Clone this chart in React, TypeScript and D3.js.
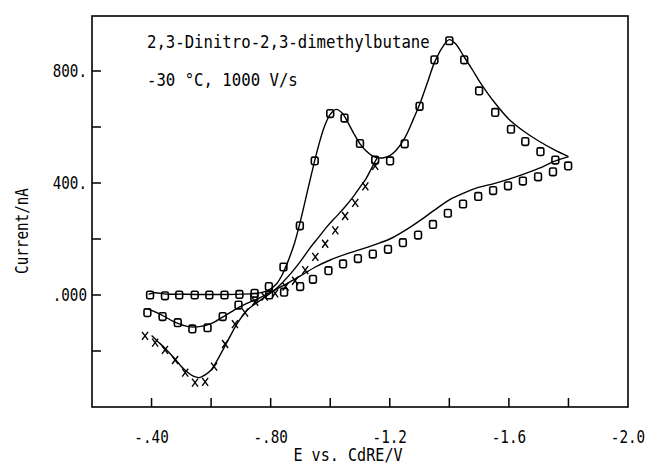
import React from "react";
import * as d3 from "d3";

// forward scan, simulation (E / V, I / nA)
const fwdLineE = [-0.39, -0.41, -0.45, -0.5, -0.55, -0.6, -0.65, -0.7, -0.75, -0.78, -0.8, -0.82, -0.84, -0.86, -0.88, -0.9, -0.92, -0.94, -0.96, -0.98, -1.0, -1.02, -1.04, -1.06, -1.08, -1.1, -1.12, -1.14, -1.16, -1.18, -1.2, -1.22, -1.25, -1.28, -1.3, -1.33, -1.35, -1.38, -1.4, -1.42, -1.45, -1.48, -1.5, -1.55, -1.6, -1.65, -1.7, -1.75, -1.8];
const fwdLineI = [2, 8, 3, 3, 2, 2, 2, 3, 6, 12, 22, 40, 75, 125, 185, 265, 355, 445, 530, 600, 645, 663, 650, 615, 575, 540, 515, 498, 490, 490, 498, 515, 560, 630, 680, 770, 830, 890, 912, 898, 850, 800, 765, 690, 628, 585, 550, 520, 494];

// forward scan, experiment (squares)
const fwdPtsE = [-0.395, -0.445, -0.493, -0.545, -0.594, -0.645, -0.695, -0.746, -0.794, -0.843, -0.898, -0.948, -1.0, -1.048, -1.1, -1.151, -1.201, -1.25, -1.3, -1.35, -1.4, -1.45, -1.5, -1.554, -1.607, -1.655, -1.706, -1.756];
const fwdPtsI = [0, -3, 0, 0, 0, 0, 2, 6, 30, 100, 247, 479, 648, 632, 541, 482, 479, 540, 674, 840, 908, 840, 729, 652, 592, 548, 512, 482];

// reverse scan from -1.8 V, simulation
const revLineE = [-1.8, -1.75, -1.7, -1.65, -1.6, -1.55, -1.5, -1.45, -1.4, -1.35, -1.3, -1.25, -1.2, -1.15, -1.1, -1.05, -1.0, -0.95, -0.9, -0.85, -0.8, -0.76, -0.72, -0.68, -0.64, -0.6, -0.56, -0.52, -0.48, -0.44, -0.4, -0.39];
const revLineI = [494, 476, 452, 432, 414, 398, 385, 365, 340, 303, 265, 230, 200, 180, 162, 145, 125, 100, 68, 38, 10, -12, -30, -52, -78, -102, -113, -112, -98, -75, -55, -50];

// reverse scan from -1.8 V, experiment (squares)
const revPtsE = [-1.799, -1.748, -1.698, -1.647, -1.597, -1.547, -1.497, -1.446, -1.395, -1.345, -1.295, -1.244, -1.194, -1.143, -1.093, -1.043, -0.994, -0.942, -0.899, -0.845, -0.795, -0.745, -0.692, -0.639, -0.588, -0.537, -0.488, -0.437, -0.386];
const revPtsI = [461, 440, 422, 407, 390, 373, 352, 325, 292, 252, 214, 187, 163, 146, 130, 111, 87, 56, 30, 10, 0, -8, -36, -77, -117, -121, -99, -77, -63];

// reverse scan from -1.16 V, simulation
const swLineE = [-1.16, -1.14, -1.12, -1.1, -1.08, -1.05, -1.02, -0.99, -0.96, -0.93, -0.9, -0.87, -0.84, -0.81, -0.78, -0.75, -0.72, -0.69, -0.66, -0.63, -0.6, -0.58, -0.56, -0.54, -0.52, -0.5, -0.48, -0.445, -0.42, -0.4];
const swLineI = [495, 455, 415, 385, 355, 315, 280, 245, 205, 165, 120, 80, 45, 15, -8, -30, -55, -98, -155, -215, -268, -285, -295, -290, -275, -255, -230, -190, -165, -145];

// reverse scan from -1.16 V, experiment (crosses)
const swPtsE = [-0.378, -0.412, -0.445, -0.479, -0.513, -0.546, -0.58, -0.61, -0.647, -0.68, -0.714, -0.748, -0.78, -0.815, -0.85, -0.882, -0.916, -0.95, -0.983, -1.017, -1.05, -1.084, -1.118, -1.151];
const swPtsI = [-146, -170, -196, -232, -277, -313, -310, -256, -175, -104, -63, -24, -6, 6, 30, 51, 89, 136, 183, 231, 282, 329, 388, 461];

const xTicks = [-0.4, -0.6, -0.8, -1.0, -1.2, -1.4, -1.6, -1.8];
const xLabelVals = [-0.4, -0.8, -1.2, -1.6, -2.0];
const xLabels = ["-.40", "-.80", "-1.2", "-1.6", "-2.0"];
const yTicks = [-200, 0, 200, 400, 600, 800];
const yLabelVals = [0, 400, 800];
const yLabels = [".000", "400.", "800."];

const W = 646, H = 469;
const margin = { top: 16, right: 18, bottom: 62, left: 92 };
const font = "'DejaVu Sans Mono', 'Liberation Mono', monospace";

const zip = (e: number[], i: number[]): [number, number][] => e.map((v, k) => [v, i[k]]);

// narrow, tall plotter-like lettering
function Label({ x, y, size, anchor = "start", rotate = 0, sx = 0.84, children }: any) {
  return (
    <text
      transform={`translate(${x},${y}) rotate(${rotate}) scale(${sx},1)`}
      textAnchor={anchor}
      fontFamily={font}
      fontSize={size}
      fill="#000"
    >
      {children}
    </text>
  );
}

export default function App() {
  const x = d3.scaleLinear().domain([-0.2, -2.0]).range([margin.left, W - margin.right]);
  const y = d3.scaleLinear().domain([-400, 1000]).range([H - margin.bottom, margin.top - 1]);
  const line = d3
    .line<[number, number]>()
    .x(d => x(d[0]))
    .y(d => y(d[1]))
    .curve(d3.curveCatmullRom);

  const lines = [zip(fwdLineE, fwdLineI), zip(revLineE, revLineI), zip(swLineE, swLineI)];
  const squares = [...zip(fwdPtsE, fwdPtsI), ...zip(revPtsE, revPtsI)];
  const crosses = zip(swPtsE, swPtsI);
  const x0 = margin.left, x1 = W - margin.right;
  const y0 = H - margin.bottom, y1 = margin.top;

  return (
    <svg width={W} height={H} style={{ position: "absolute", left: 0, top: 0, background: "#fff" }}>
      <rect x={x0} y={y1} width={x1 - x0} height={y0 - y1} fill="none" stroke="#000" strokeWidth={1.6} />
      {xTicks.map(t => (
        <line key={t} x1={x(t)} x2={x(t)} y1={y0} y2={y0 - 9} stroke="#000" strokeWidth={1.5} />
      ))}
      {yTicks.map(t => (
        <line key={t} x1={x0} x2={x0 + 9} y1={y(t)} y2={y(t)} stroke="#000" strokeWidth={1.5} />
      ))}
      {xLabelVals.map((v, k) => (
        <Label key={v} x={x(v)} y={y0 + 36} size={17} anchor="middle">{xLabels[k]}</Label>
      ))}
      {yLabelVals.map((v, k) => (
        <Label key={v} x={x0 - 5} y={y(v) + 6} size={17} anchor="end">{yLabels[k]}</Label>
      ))}
      <Label x={(x0 + x1) / 2 - 12} y={H - 8} size={18} anchor="middle">E vs. CdRE/V</Label>
      <Label x={28} y={231} size={17} anchor="middle" rotate={-90}>Current/nA</Label>
      <Label x={147} y={48} size={18} sx={0.87}>2,3-Dinitro-2,3-dimethylbutane</Label>
      <Label x={147} y={86} size={18} sx={0.87}>-30 °C, 1000 V/s</Label>

      {lines.map((pts, k) => (
        <path key={k} d={line(pts) || ""} fill="none" stroke="#000" strokeWidth={1.4} />
      ))}
      {squares.map((d, k) => (
        <rect key={k} x={x(d[0]) - 3.4} y={y(d[1]) - 3.8} width={6.8} height={7.6} rx={1.6}
          fill="none" stroke="#000" strokeWidth={1.6} />
      ))}
      {crosses.map((d, k) => (
        <path key={k} transform={`translate(${x(d[0])},${y(d[1])})`}
          d="M-3,-4L3,4M3,-4L-3,4" fill="none" stroke="#000" strokeWidth={1.4} />
      ))}
    </svg>
  );
}
